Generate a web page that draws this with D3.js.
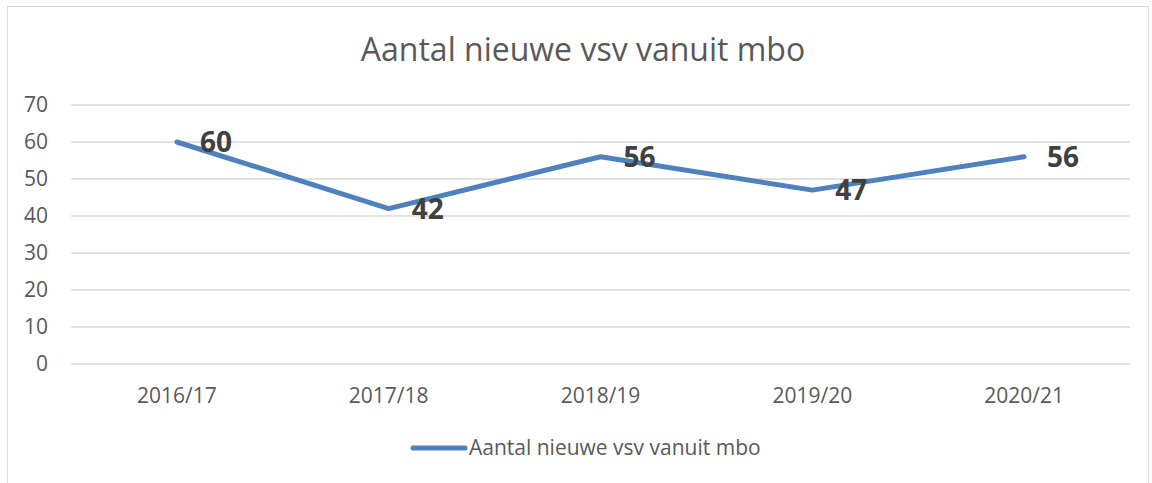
<!DOCTYPE html>
<html>
<head>
<meta charset="utf-8">
<script src="https://cdn.jsdelivr.net/npm/d3@7"></script>
<style>
  body { margin: 0; background: #fff; overflow: hidden; }
  text { font-family: "Open Sans", "Liberation Sans", sans-serif; }
</style>
</head>
<body>
<div id="chart"></div>
<script>
let categories = ["2016/17", "2017/18", "2018/19", "2019/20", "2020/21"];
let values = [60, 42, 56, 47, 56];
let yTicks = [0, 10, 20, 30, 40, 50, 60, 70];
let seriesName = "Aantal nieuwe vsv vanuit mbo";
let title = "Aantal nieuwe vsv vanuit mbo";

let W = 1152, H = 483;
let plotLeft = 71, plotRight = 1130, plotTop = 105, plotBottom = 364;

let svg = d3.select("#chart").append("svg")
    .attr("width", W).attr("height", H);

// outer border
svg.append("rect")
    .attr("x", 7.5).attr("y", 6.5)
    .attr("width", 1141).attr("height", 490)
    .attr("fill", "#fff").attr("stroke", "#d9d9d9");

let x = d3.scaleBand().domain(categories).range([plotLeft, plotRight]);
let y = d3.scaleLinear().domain([0, 70]).range([plotBottom, plotTop]);

// gridlines
svg.append("g").selectAll("line").data(yTicks).enter().append("line")
    .attr("x1", plotLeft).attr("x2", plotRight)
    .attr("y1", d => y(d)).attr("y2", d => y(d))
    .attr("stroke", "#d9d9d9").attr("stroke-width", 1.3);

// y labels
let yAxis = svg.append("g")
    .attr("transform", "translate(" + plotLeft + ",0)")
    .call(d3.axisLeft(y).tickValues(yTicks).tickSize(0).tickPadding(23));
yAxis.select(".domain").remove();
yAxis.attr("font-size", 21).attr("font-family", null);
yAxis.selectAll("text").attr("fill", "#595959");

// x labels
let xAxis = svg.append("g")
    .attr("transform", "translate(0," + plotBottom + ")")
    .call(d3.axisBottom(x).tickSize(0).tickPadding(0));
xAxis.select(".domain").remove();
xAxis.attr("font-size", 21).attr("font-family", null);
xAxis.selectAll("text").attr("fill", "#595959").attr("y", 39).attr("dy", 0);

// line
let pts = categories.map((c, i) => [x(c) + x.bandwidth() / 2, y(values[i])]);
svg.append("path")
    .attr("d", d3.line()(pts))
    .attr("fill", "none")
    .attr("stroke", "#4f81bd")
    .attr("stroke-width", 5)
    .attr("stroke-linecap", "round")
    .attr("stroke-linejoin", "round");

// data labels
svg.append("g").selectAll("text").data(values).enter().append("text")
    .attr("x", (d, i) => pts[i][0] + 23)
    .attr("y", (d, i) => pts[i][1])
    .attr("dy", "0.36em")
    .attr("font-size", 28)
    .attr("font-weight", "bold")
    .attr("fill", "#404040")
    .text(d => d);

// title
svg.append("text")
    .attr("x", 583).attr("y", 61)
    .attr("text-anchor", "middle")
    .attr("font-size", 32)
    .attr("fill", "#595959")
    .text(title);

// legend
svg.append("line")
    .attr("x1", 413).attr("x2", 465)
    .attr("y1", 448).attr("y2", 448)
    .attr("stroke", "#4f81bd").attr("stroke-width", 5)
    .attr("stroke-linecap", "round");
svg.append("text")
    .attr("x", 469).attr("y", 455)
    .attr("font-size", 21)
    .attr("fill", "#595959")
    .text(seriesName);
</script>
</body>
</html>
